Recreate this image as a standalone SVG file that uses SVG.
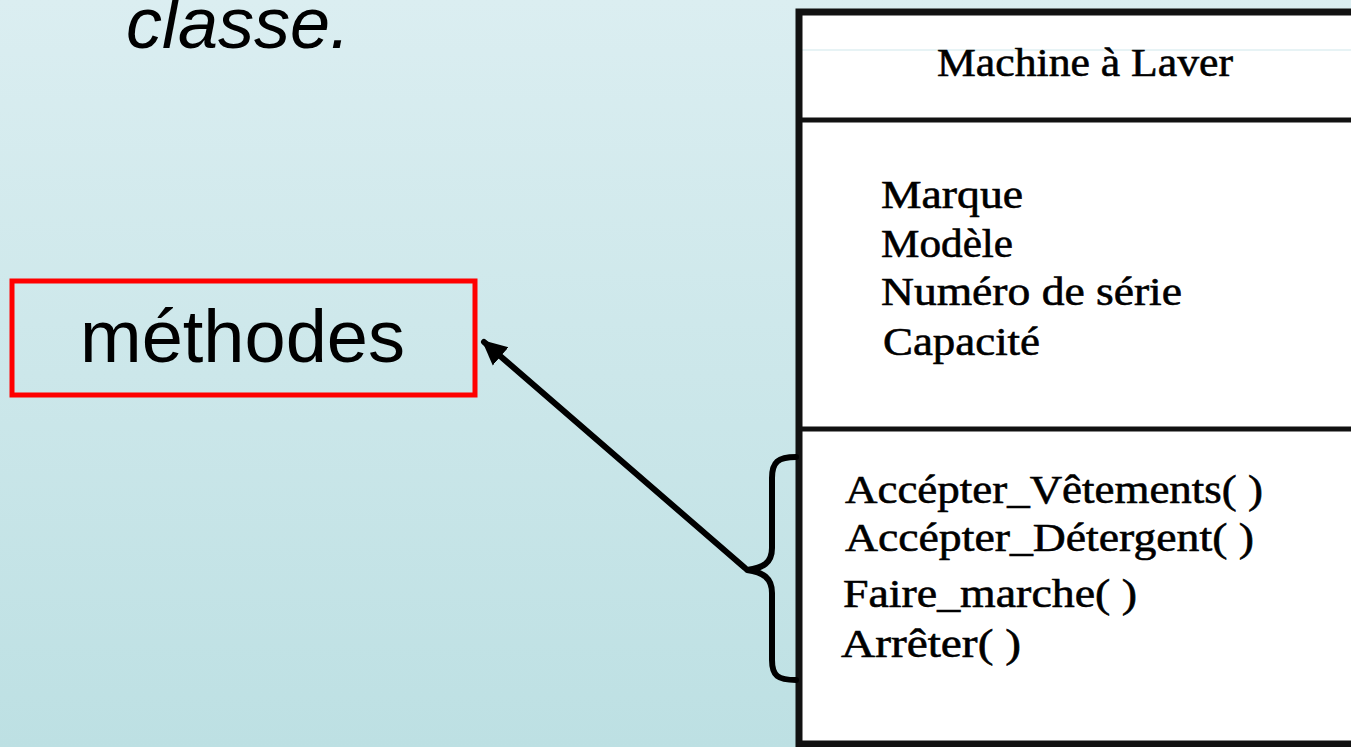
<svg xmlns="http://www.w3.org/2000/svg" width="1351" height="747" viewBox="0 0 1351 747">
  <defs>
    <linearGradient id="bg" x1="0" y1="0" x2="0" y2="1">
      <stop offset="0" stop-color="#dbeef1"/>
      <stop offset="1" stop-color="#bde0e3"/>
    </linearGradient>
    <marker id="arrowHead" markerUnits="userSpaceOnUse" markerWidth="28" markerHeight="28" refX="22" refY="14" orient="auto">
      <path d="M0,2 L25,14 L0,26 Z" fill="#000"/>
    </marker>
    <style>
      .title { font-family: "Liberation Sans", Arial, sans-serif; font-size: 72px; font-style: italic; fill: #000; }
      .label { font-family: "Liberation Sans", Arial, sans-serif; font-size: 74px; fill: #000; }
      .cls { font-family: "Liberation Serif", "Times New Roman", serif; font-size: 41px; fill: #000; stroke: #000; stroke-width: 0.6px; }
      .border { stroke: #111; fill: none; }
      .conn { stroke: #000; stroke-width: 6; fill: none; stroke-linecap: round; stroke-linejoin: round; }
    </style>
  </defs>

  <!-- slide background -->
  <rect x="0" y="0" width="1351" height="747" fill="url(#bg)"/>

  <text class="title" x="126" y="48">classe.</text>

  <!-- label box -->
  <g id="methodes">
    <rect x="12" y="281" width="463" height="114" fill="none" stroke="#ff0000" stroke-width="5"/>
    <text class="label" x="80" y="362">méthodes</text>
  </g>

  <!-- UML class: Machine à Laver -->
  <g id="machine-a-laver">
    <rect x="799" y="12" width="570" height="732" fill="#ffffff"/>
    <line x1="802" y1="50" x2="1351" y2="50" stroke="#cfe7eb" stroke-width="1"/>
    <rect x="799" y="12" width="570" height="732" class="border" stroke-width="7"/>
    <line x1="799" y1="120" x2="1351" y2="120" class="border" stroke-width="5"/>
    <line x1="799" y1="429" x2="1351" y2="429" class="border" stroke-width="5"/>

    <text class="cls" x="937" y="76" textLength="296" lengthAdjust="spacingAndGlyphs">Machine à Laver</text>

    <text class="cls" x="881" y="208" textLength="142" lengthAdjust="spacingAndGlyphs">Marque</text>
    <text class="cls" x="881" y="257" textLength="132" lengthAdjust="spacingAndGlyphs">Modèle</text>
    <text class="cls" x="881" y="305" textLength="301" lengthAdjust="spacingAndGlyphs">Numéro de série</text>
    <text class="cls" x="883" y="355" textLength="157" lengthAdjust="spacingAndGlyphs">Capacité</text>

    <text class="cls" x="845" y="503" textLength="418" lengthAdjust="spacingAndGlyphs">Accépter_Vêtements( )</text>
    <text class="cls" x="845" y="551" textLength="409" lengthAdjust="spacingAndGlyphs">Accépter_Détergent( )</text>
    <text class="cls" x="843" y="607" textLength="294" lengthAdjust="spacingAndGlyphs">Faire_marche( )</text>
    <text class="cls" x="841" y="657" textLength="180" lengthAdjust="spacingAndGlyphs">Arrêter( )</text>
  </g>

  <!-- connectors -->
  <g id="connectors">
    <path class="conn" d="M796,457 C778,457 772,462 772,478 L772,548 C772,563 763,568 747,570 C763,572 772,578 772,593 L772,660 C772,676 778,680 796,680"/>
    <line class="conn" x1="745" y1="568" x2="484" y2="342" marker-end="url(#arrowHead)"/>
  </g>
</svg>
